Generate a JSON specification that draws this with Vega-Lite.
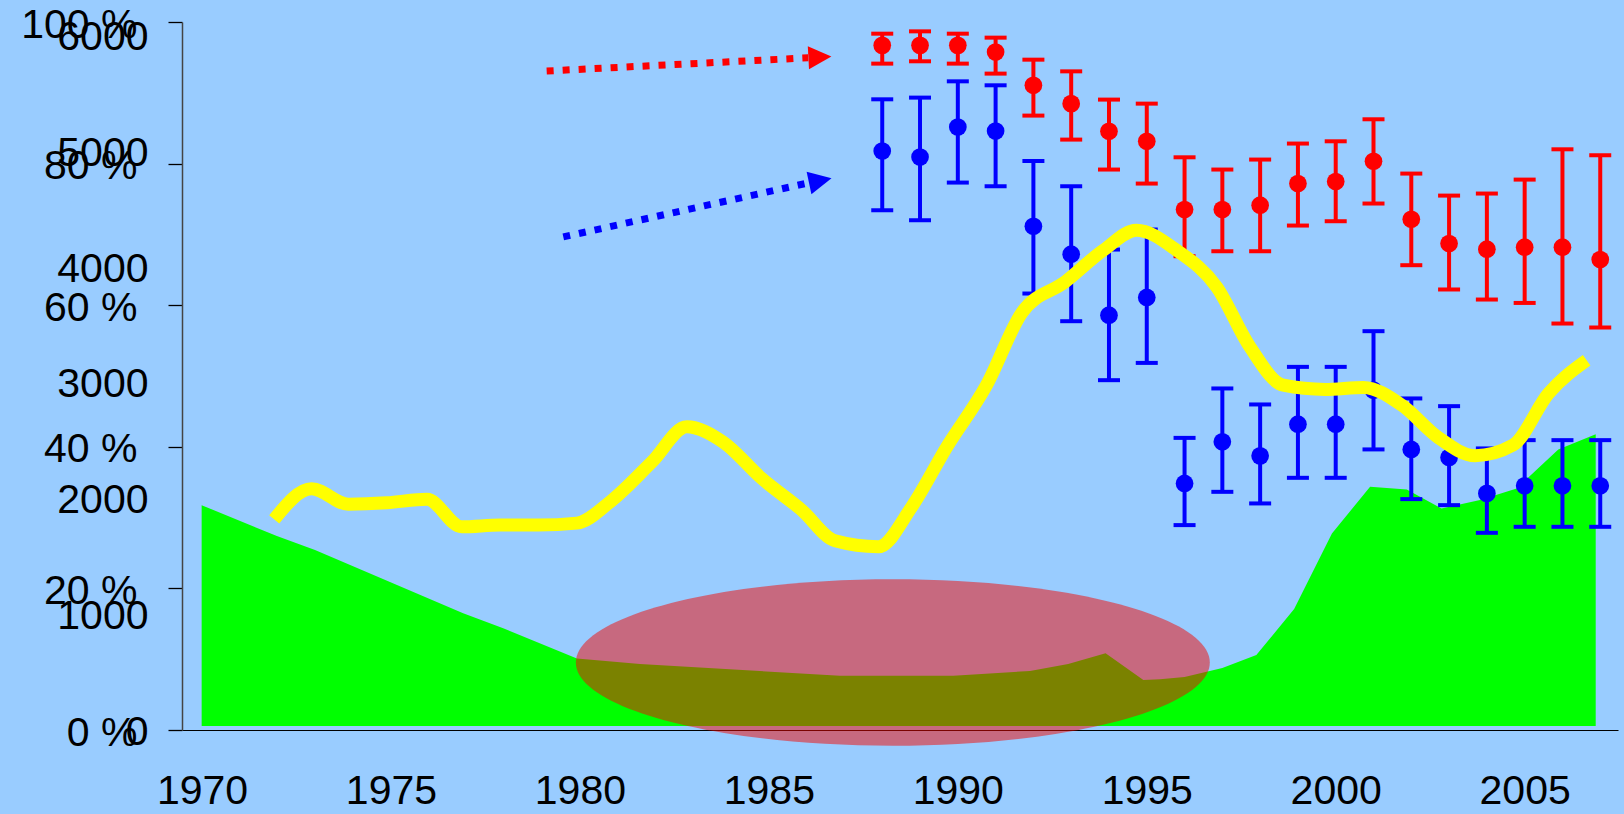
{
  "$schema": "https://vega.github.io/schema/vega-lite/v6.json",
  "width": 1436,
  "height": 708,
  "autosize": {"type": "none"},
  "padding": {"left": 182, "top": 22, "right": 6, "bottom": 84},
  "background": "#99CCFF",
  "config": {
    "view": {"stroke": null},
    "font": "Liberation Sans",
    "axis": {"labelColor": "black", "labelFont": "Liberation Sans", "labelFlush": false, "labelOverlap": false}
  },
  "datasets": {
    "eb": [
      {"year": 1988, "series": "red", "v": 96.70, "lo": 94.12, "hi": 98.35},
      {"year": 1989, "series": "red", "v": 96.70, "lo": 94.45, "hi": 98.68},
      {"year": 1990, "series": "red", "v": 96.70, "lo": 94.12, "hi": 98.35},
      {"year": 1991, "series": "red", "v": 95.76, "lo": 92.71, "hi": 97.79},
      {"year": 1992, "series": "red", "v": 91.06, "lo": 86.78, "hi": 94.68},
      {"year": 1993, "series": "red", "v": 88.47, "lo": 83.39, "hi": 93.03},
      {"year": 1994, "series": "red", "v": 84.56, "lo": 79.16, "hi": 89.04},
      {"year": 1995, "series": "red", "v": 83.15, "lo": 77.18, "hi": 88.47},
      {"year": 1996, "series": "red", "v": 73.51, "lo": 66.92, "hi": 80.89},
      {"year": 1997, "series": "red", "v": 73.51, "lo": 67.62, "hi": 79.16},
      {"year": 1998, "series": "red", "v": 74.12, "lo": 67.62, "hi": 80.57},
      {"year": 1999, "series": "red", "v": 77.18, "lo": 71.25, "hi": 82.83},
      {"year": 2000, "series": "red", "v": 77.46, "lo": 71.86, "hi": 83.15},
      {"year": 2001, "series": "red", "v": 80.33, "lo": 74.36, "hi": 86.26},
      {"year": 2002, "series": "red", "v": 72.14, "lo": 65.65, "hi": 78.59},
      {"year": 2003, "series": "red", "v": 68.71, "lo": 62.22, "hi": 75.48},
      {"year": 2004, "series": "red", "v": 67.91, "lo": 60.80, "hi": 75.77},
      {"year": 2005, "series": "red", "v": 68.19, "lo": 60.32, "hi": 77.74},
      {"year": 2006, "series": "red", "v": 68.19, "lo": 57.41, "hi": 82.02},
      {"year": 2007, "series": "red", "v": 66.45, "lo": 56.85, "hi": 81.18},
      {"year": 1988, "series": "blue", "v": 81.78, "lo": 73.41, "hi": 89.08},
      {"year": 1989, "series": "blue", "v": 80.93, "lo": 72.00, "hi": 89.32},
      {"year": 1990, "series": "blue", "v": 85.17, "lo": 77.32, "hi": 91.62},
      {"year": 1991, "series": "blue", "v": 84.60, "lo": 76.80, "hi": 91.06},
      {"year": 1992, "series": "blue", "v": 71.15, "lo": 61.65, "hi": 80.37},
      {"year": 1993, "series": "blue", "v": 67.20, "lo": 57.74, "hi": 76.80},
      {"year": 1994, "series": "blue", "v": 58.59, "lo": 49.41, "hi": 67.86},
      {"year": 1995, "series": "blue", "v": 61.09, "lo": 51.85, "hi": 70.69},
      {"year": 1996, "series": "blue", "v": 34.83, "lo": 28.94, "hi": 41.26},
      {"year": 1997, "series": "blue", "v": 40.70, "lo": 33.64, "hi": 48.24},
      {"year": 1998, "series": "blue", "v": 38.72, "lo": 32.00, "hi": 45.98},
      {"year": 1999, "series": "blue", "v": 43.20, "lo": 35.62, "hi": 51.29},
      {"year": 2000, "series": "blue", "v": 43.20, "lo": 35.62, "hi": 51.29},
      {"year": 2001, "series": "blue", "v": 48.00, "lo": 39.63, "hi": 56.33},
      {"year": 2002, "series": "blue", "v": 39.63, "lo": 32.61, "hi": 46.83},
      {"year": 2003, "series": "blue", "v": 38.50, "lo": 31.76, "hi": 45.74},
      {"year": 2004, "series": "blue", "v": 33.42, "lo": 27.85, "hi": 39.77},
      {"year": 2005, "series": "blue", "v": 34.49, "lo": 28.70, "hi": 40.94},
      {"year": 2006, "series": "blue", "v": 34.49, "lo": 28.70, "hi": 40.94},
      {"year": 2007, "series": "blue", "v": 34.49, "lo": 28.70, "hi": 40.94}
    ],
    "green": [
      {"year": 1969.99, "n": 1943},
      {"year": 1971.98, "n": 1676},
      {"year": 1972.99, "n": 1555},
      {"year": 1976.91, "n": 1008},
      {"year": 1977.97, "n": 879},
      {"year": 1979.92, "n": 619},
      {"year": 1981.59, "n": 570},
      {"year": 1986.88, "n": 469},
      {"year": 1989.88, "n": 469},
      {"year": 1991.91, "n": 510},
      {"year": 1992.92, "n": 570},
      {"year": 1993.91, "n": 663},
      {"year": 1994.91, "n": 432},
      {"year": 1995.35, "n": 438},
      {"year": 1996.0, "n": 458},
      {"year": 1997.0, "n": 535},
      {"year": 1997.9, "n": 648},
      {"year": 1998.9, "n": 1045},
      {"year": 1999.9, "n": 1699},
      {"year": 2000.91, "n": 2102},
      {"year": 2001.88, "n": 2079},
      {"year": 2002.8, "n": 1915},
      {"year": 2003.82, "n": 1987},
      {"year": 2004.79, "n": 2088},
      {"year": 2005.89, "n": 2425},
      {"year": 2006.88, "n": 2555}
    ],
    "yellow": [
      {"year": 1971.91, "p": 29.75}, {"year": 1972.90, "p": 34.07}, {"year": 1973.87, "p": 31.90},
      {"year": 1974.89, "p": 32.09}, {"year": 1975.95, "p": 32.60}, {"year": 1976.87, "p": 28.70},
      {"year": 1977.89, "p": 28.94}, {"year": 1978.89, "p": 28.94}, {"year": 1979.92, "p": 29.22},
      {"year": 1980.80, "p": 32.23}, {"year": 1981.90, "p": 37.83}, {"year": 1982.83, "p": 42.82},
      {"year": 1983.79, "p": 40.66}, {"year": 1984.81, "p": 35.53}, {"year": 1985.87, "p": 31.06},
      {"year": 1986.75, "p": 26.72}, {"year": 1987.90, "p": 25.88}, {"year": 1988.78, "p": 31.52},
      {"year": 1989.71, "p": 39.99}, {"year": 1990.76, "p": 48.70}, {"year": 1991.69, "p": 58.90},
      {"year": 1992.84, "p": 63.29}, {"year": 1993.85, "p": 67.76}, {"year": 1994.73, "p": 70.59},
      {"year": 1995.79, "p": 67.76}, {"year": 1996.85, "p": 62.58}, {"year": 1997.73, "p": 54.11},
      {"year": 1998.61, "p": 48.70}, {"year": 1999.72, "p": 48.10}, {"year": 2000.73, "p": 48.38},
      {"year": 2001.75, "p": 45.88}, {"year": 2002.69, "p": 41.41}, {"year": 2003.69, "p": 38.75},
      {"year": 2004.69, "p": 40.23}, {"year": 2005.63, "p": 47.53}, {"year": 2006.64, "p": 52.23}
    ],
    "ellipse": [{"year": 1988.28, "p": 9.53}],
    "arrows": [
      {"series": "red", "year": 1979.12, "p": 93.08, "year2": 1986.04, "p2": 94.94},
      {"series": "blue", "year": 1979.56, "p": 69.64, "year2": 1986.06, "p2": 77.29}
    ],
    "heads": [
      {"series": "red", "year": 1986.35, "p": 95.05},
      {"series": "blue", "year": 1986.36, "p": 77.59}
    ],
    "grid": [{"g": 0}, {"g": 20}, {"g": 40}, {"g": 60}, {"g": 80}, {"g": 100}]
  },
  "encoding": {
    "x": {
      "field": "year", "type": "quantitative",
      "scale": {"domain": [1969.47, 2007.47], "nice": false, "zero": false},
      "axis": {
        "title": null, "orient": "bottom", "values": [1970, 1975, 1980, 1985, 1990, 1995, 2000, 2005], "format": "d",
        "ticks": false, "grid": false, "domain": true, "domainColor": "black", "domainWidth": 1.2,
        "labelFontSize": 41, "labelPadding": 41
      }
    }
  },
  "layer": [
    {
      "data": {"name": "green"},
      "mark": {"type": "area", "color": "#00FF00", "opacity": 1, "interpolate": "linear"},
      "encoding": {
        "y": {
          "field": "n", "type": "quantitative",
          "scale": {"domain": [0, 6119], "nice": false, "zero": false},
          "axis": {
            "title": null, "orient": "left", "values": [0, 1000, 2000, 3000, 4000, 5000, 6000], "format": "d",
            "ticks": false, "domain": false, "grid": false,
            "labelFontSize": 41, "labelPadding": 34, "labelOffset": 2
          }
        },
        "y2": {"datum": 34}
      }
    },
    {
      "data": {"name": "grid"},
      "mark": {"type": "rule", "color": "black", "strokeWidth": 1.3},
      "encoding": {
        "x": {"datum": 1969.47},
        "x2": {"datum": 2007.47},
        "y": {
          "field": "g", "type": "quantitative",
          "scale": {"domain": [0, 100], "nice": false, "zero": false},
          "axis": {
            "title": null, "orient": "left", "values": [0, 20, 40, 60, 80, 100],
            "labelExpr": "datum.value + ' %'",
            "ticks": true, "tickSize": 14, "tickColor": "black", "tickWidth": 1.3,
            "domain": true, "domainColor": "#444444", "domainWidth": 1.5, "grid": false,
            "labelFontSize": 41, "labelPadding": 31, "labelOffset": 3
          }
        }
      }
    },
    {
      "data": {"name": "ellipse"},
      "mark": {
        "type": "point", "filled": true, "fill": "#F50500", "opacity": 0.5, "strokeWidth": 0, "size": 401956,
        "shape": "M-1,0A1,0.2625,0,1,0,1,0A1,0.2625,0,1,0,-1,0Z"
      },
      "encoding": {
        "y": {"field": "p", "type": "quantitative", "scale": {"domain": [0, 100], "nice": false, "zero": false}, "axis": null}
      }
    },
    {
      "data": {"name": "eb"},
      "mark": {"type": "rule", "strokeWidth": 4},
      "encoding": {
        "y": {"field": "lo", "type": "quantitative", "scale": {"domain": [0, 100], "nice": false, "zero": false}, "axis": null},
        "y2": {"field": "hi"},
        "color": {"field": "series", "type": "nominal", "scale": {"domain": ["red", "blue"], "range": ["#FF0000", "#0000FF"]}, "legend": null}
      }
    },
    {
      "data": {"name": "eb"},
      "mark": {"type": "tick", "orient": "horizontal", "size": 22, "thickness": 4, "opacity": 1},
      "encoding": {
        "y": {"field": "lo", "type": "quantitative", "scale": {"domain": [0, 100], "nice": false, "zero": false}, "axis": null},
        "color": {"field": "series", "type": "nominal", "legend": null}
      }
    },
    {
      "data": {"name": "eb"},
      "mark": {"type": "tick", "orient": "horizontal", "size": 22, "thickness": 4, "opacity": 1},
      "encoding": {
        "y": {"field": "hi", "type": "quantitative", "scale": {"domain": [0, 100], "nice": false, "zero": false}, "axis": null},
        "color": {"field": "series", "type": "nominal", "legend": null}
      }
    },
    {
      "data": {"name": "eb"},
      "mark": {"type": "circle", "size": 314, "opacity": 1},
      "encoding": {
        "y": {"field": "v", "type": "quantitative", "scale": {"domain": [0, 100], "nice": false, "zero": false}, "axis": null},
        "color": {"field": "series", "type": "nominal", "legend": null}
      }
    },
    {
      "data": {"name": "yellow"},
      "mark": {"type": "line", "color": "#FFFF00", "strokeWidth": 13, "interpolate": "monotone", "strokeCap": "butt", "strokeJoin": "round"},
      "encoding": {
        "y": {"field": "p", "type": "quantitative", "scale": {"domain": [0, 100], "nice": false, "zero": false}, "axis": null}
      }
    },
    {
      "data": {"name": "arrows"},
      "mark": {"type": "rule", "strokeWidth": 7, "strokeDash": [7, 9], "strokeCap": "butt"},
      "encoding": {
        "y": {"field": "p", "type": "quantitative", "scale": {"domain": [0, 100], "nice": false, "zero": false}, "axis": null},
        "x2": {"field": "year2"},
        "y2": {"field": "p2"},
        "color": {"field": "series", "type": "nominal", "legend": null}
      }
    },
    {
      "data": {"name": "heads"},
      "transform": [{"filter": "datum.series === 'red'"}],
      "mark": {"type": "point", "filled": true, "opacity": 1, "size": 529, "angle": 357, "shape": "M-1,-1L1,0L-1,1Z", "color": "#FF0000"},
      "encoding": {
        "y": {"field": "p", "type": "quantitative", "scale": {"domain": [0, 100], "nice": false, "zero": false}, "axis": null}
      }
    },
    {
      "data": {"name": "heads"},
      "transform": [{"filter": "datum.series === 'blue'"}],
      "mark": {"type": "point", "filled": true, "opacity": 1, "size": 529, "angle": 348, "shape": "M-1,-1L1,0L-1,1Z", "color": "#0000FF"},
      "encoding": {
        "y": {"field": "p", "type": "quantitative", "scale": {"domain": [0, 100], "nice": false, "zero": false}, "axis": null}
      }
    }
  ],
  "resolve": {"scale": {"y": "independent"}, "axis": {"y": "independent"}}
}
